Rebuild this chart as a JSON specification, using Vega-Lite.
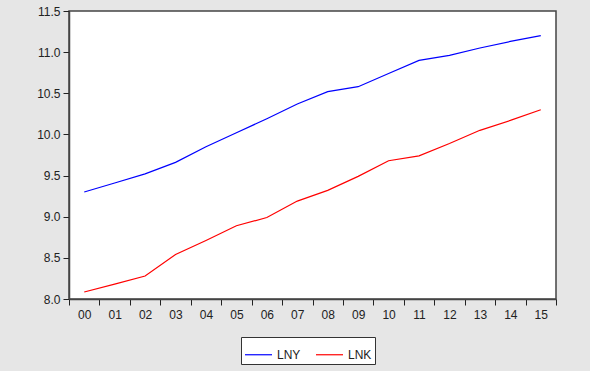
{
  "$schema": "https://vega.github.io/schema/vega-lite/v6.json",
  "width": 487,
  "height": 288,
  "autosize": {"type": "none"},
  "padding": {"left": 69, "top": 11, "right": 34, "bottom": 72},
  "background": "#e6e6e6",
  "view": {"fill": "white", "stroke": "#444444", "strokeWidth": 1.5},
  "data": {
    "values": [
      {"year": "00", "series": "LNY", "value": 9.30},
      {"year": "01", "series": "LNY", "value": 9.41},
      {"year": "02", "series": "LNY", "value": 9.52},
      {"year": "03", "series": "LNY", "value": 9.66},
      {"year": "04", "series": "LNY", "value": 9.85},
      {"year": "05", "series": "LNY", "value": 10.02},
      {"year": "06", "series": "LNY", "value": 10.19},
      {"year": "07", "series": "LNY", "value": 10.37},
      {"year": "08", "series": "LNY", "value": 10.52},
      {"year": "09", "series": "LNY", "value": 10.58},
      {"year": "10", "series": "LNY", "value": 10.74},
      {"year": "11", "series": "LNY", "value": 10.90},
      {"year": "12", "series": "LNY", "value": 10.96},
      {"year": "13", "series": "LNY", "value": 11.05},
      {"year": "14", "series": "LNY", "value": 11.13},
      {"year": "15", "series": "LNY", "value": 11.20},
      {"year": "00", "series": "LNK", "value": 8.085},
      {"year": "01", "series": "LNK", "value": 8.18},
      {"year": "02", "series": "LNK", "value": 8.28},
      {"year": "03", "series": "LNK", "value": 8.54},
      {"year": "04", "series": "LNK", "value": 8.71},
      {"year": "05", "series": "LNK", "value": 8.89},
      {"year": "06", "series": "LNK", "value": 8.99},
      {"year": "07", "series": "LNK", "value": 9.19},
      {"year": "08", "series": "LNK", "value": 9.32},
      {"year": "09", "series": "LNK", "value": 9.49},
      {"year": "10", "series": "LNK", "value": 9.68},
      {"year": "11", "series": "LNK", "value": 9.74},
      {"year": "12", "series": "LNK", "value": 9.89},
      {"year": "13", "series": "LNK", "value": 10.05},
      {"year": "14", "series": "LNK", "value": 10.17},
      {"year": "15", "series": "LNK", "value": 10.30}
    ]
  },
  "mark": {"type": "line", "strokeWidth": 1.2},
  "encoding": {
    "x": {
      "field": "year",
      "type": "ordinal",
      "scale": {"type": "band", "paddingInner": 0, "paddingOuter": 0},
      "axis": {
        "title": null,
        "labelAngle": 0,
        "tickBand": "extent",
        "tickSize": 6,
        "tickColor": "#222222",
        "domainColor": "#444444",
        "domainWidth": 1.5,
        "labelFont": "Liberation Sans",
        "labelFontSize": 12,
        "labelColor": "#222222",
        "labelPadding": 4
      }
    },
    "y": {
      "field": "value",
      "type": "quantitative",
      "scale": {"domain": [8, 11.5], "nice": false, "zero": false},
      "axis": {
        "title": null,
        "values": [8, 8.5, 9, 9.5, 10, 10.5, 11, 11.5],
        "format": ".1f",
        "grid": false,
        "tickSize": 6,
        "tickColor": "#222222",
        "domainColor": "#444444",
        "domainWidth": 1.5,
        "labelFont": "Liberation Sans",
        "labelFontSize": 12,
        "labelColor": "#222222",
        "labelPadding": 3
      }
    },
    "color": {
      "field": "series",
      "type": "nominal",
      "scale": {"domain": ["LNY", "LNK"], "range": ["#0000ff", "#ff0000"]},
      "legend": {
        "title": null,
        "orient": "none",
        "direction": "horizontal",
        "legendX": 172,
        "legendY": 326,
        "symbolType": "stroke",
        "symbolSize": 729,
        "symbolStrokeWidth": 1.2,
        "labelFont": "Liberation Sans",
        "labelFontSize": 12,
        "labelColor": "#222222",
        "columnPadding": 12,
        "padding": 3,
        "strokeColor": "#333333",
        "fillColor": "white"
      }
    }
  }
}
